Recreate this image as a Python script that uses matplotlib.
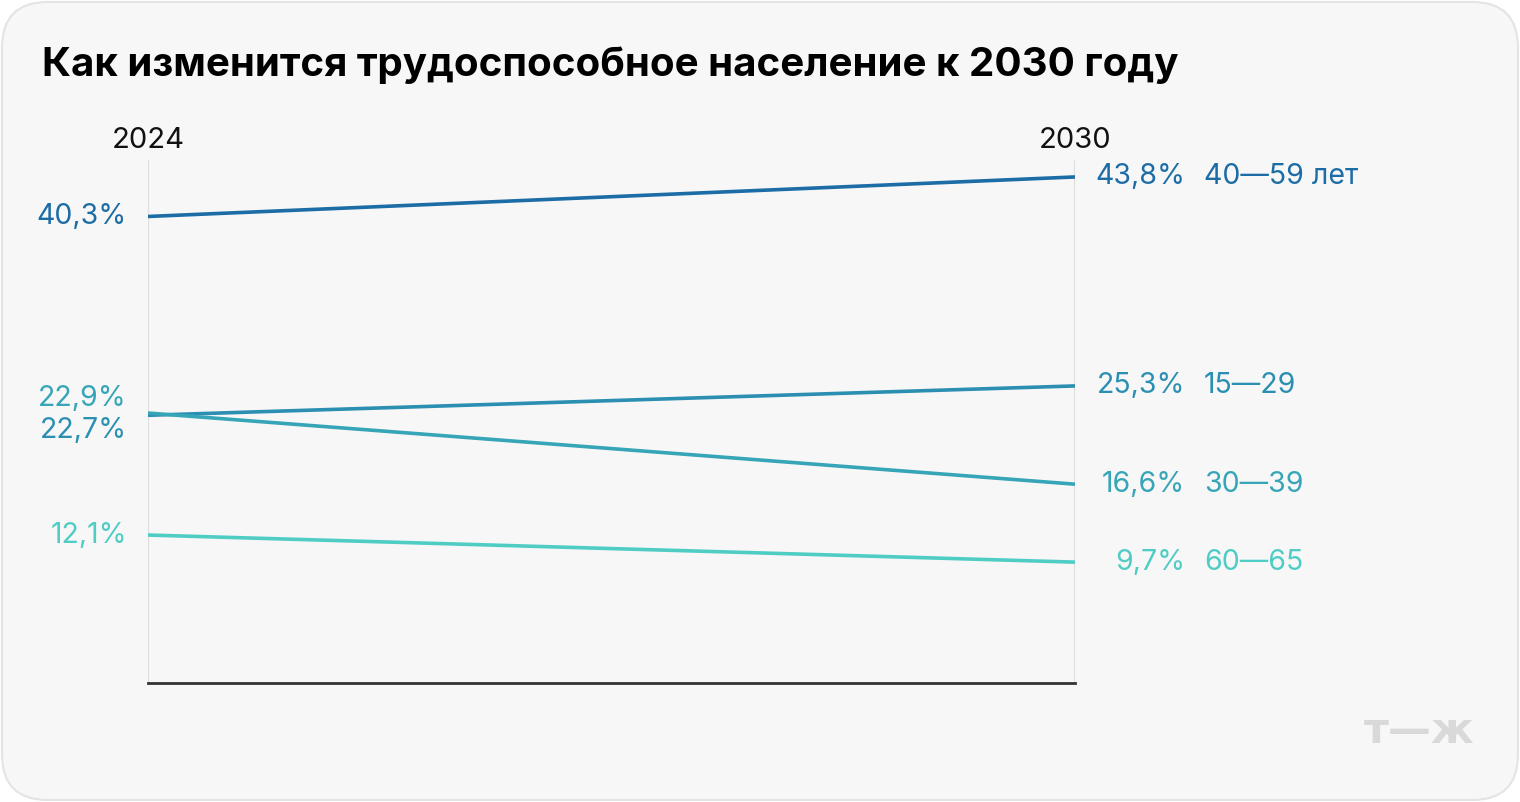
import matplotlib
matplotlib.use("Agg")
import matplotlib.pyplot as plt
from matplotlib.patches import FancyBboxPatch

title = "Как изменится трудоспособное население к 2030 году"
years = ["2024", "2030"]
groups = ["40—59 лет", "15—29", "30—39", "60—65"]
values_2024 = [40.3, 22.7, 22.9, 12.1]
values_2030 = [43.8, 25.3, 16.6, 9.7]
colors = ["#1c6ca6", "#2a8fb1", "#36a5b7", "#4fcdc5"]
left_label_offsets = [0, -15, 15, 0]   # px, to separate overlapping labels
right_label_offsets = [0, 0, 0, 0]

def fmt(v):
    return f"{v:.1f}".replace(".", ",") + "%"

W, H = 1520, 802
fig = plt.figure(figsize=(W / 100, H / 100), dpi=100)
fig.patch.set_facecolor("white")
bg = FancyBboxPatch((2 / W, 2 / H), (W - 4) / W, (H - 4) / H,
                    boxstyle="round,pad=0,rounding_size=0.03",
                    transform=fig.transFigure, facecolor="#f7f7f7",
                    edgecolor="#e4e4e4", linewidth=1.5,
                    mutation_aspect=W / H, zorder=-10)
fig.patches.append(bg)

font = "Inter"
fig.text(42 / W, 1 - 65 / H, title, fontsize=29, fontweight="bold",
         family=font, color="#000000", va="center", ha="left")

ax = fig.add_axes([148 / W, (H - 683) / H, (1075 - 148) / W, (683 - 160) / H])
ax.set_facecolor("none")
ax.set_zorder(5)
x = [0, 1]
ax.set_xlim(0, 1)
ax.set_ylim(-1.0, 45.3)
for xv in x:
    ax.axvline(xv, color="#dedede", lw=1.5, zorder=1)
for i, g in enumerate(groups):
    ax.plot(x, [values_2024[i], values_2030[i]], color=colors[i], lw=2.6,
            solid_capstyle="butt", zorder=3)

for s in ["top", "right", "left"]:
    ax.spines[s].set_visible(False)
ax.spines["bottom"].set_color("#333333")
ax.spines["bottom"].set_linewidth(2)
ax.set_xticks([])
ax.set_yticks([])

fs = 20.5
for xv, yr in zip(x, years):
    ax.annotate(yr, xy=(xv, 1), xycoords=("data", "axes fraction"),
                xytext=(0, 20), textcoords="offset pixels",
                ha="center", va="center", fontsize=21, family=font, color="#111111",
                annotation_clip=False)

for i, g in enumerate(groups):
    ax.annotate(fmt(values_2024[i]), xy=(0, values_2024[i]),
                xytext=(-21, left_label_offsets[i]), textcoords="offset pixels",
                ha="right", va="center", fontsize=fs, family=font, color=colors[i],
                annotation_clip=False)
    ax.annotate(fmt(values_2030[i]), xy=(1, values_2030[i]),
                xytext=(110, right_label_offsets[i]), textcoords="offset pixels",
                ha="right", va="center", fontsize=fs, family=font, color=colors[i],
                annotation_clip=False)
    ax.annotate(g, xy=(1, values_2030[i]),
                xytext=(129, right_label_offsets[i]), textcoords="offset pixels",
                ha="left", va="center", fontsize=fs, family=font, color=colors[i],
                annotation_clip=False)

fig.text(1419 / W, 1 - 731 / H, "т—ж", fontsize=31, fontweight="bold",
         family="DejaVu Sans", color="#d9d9d9", ha="center", va="center")

fig.savefig("out.png", dpi=100)
